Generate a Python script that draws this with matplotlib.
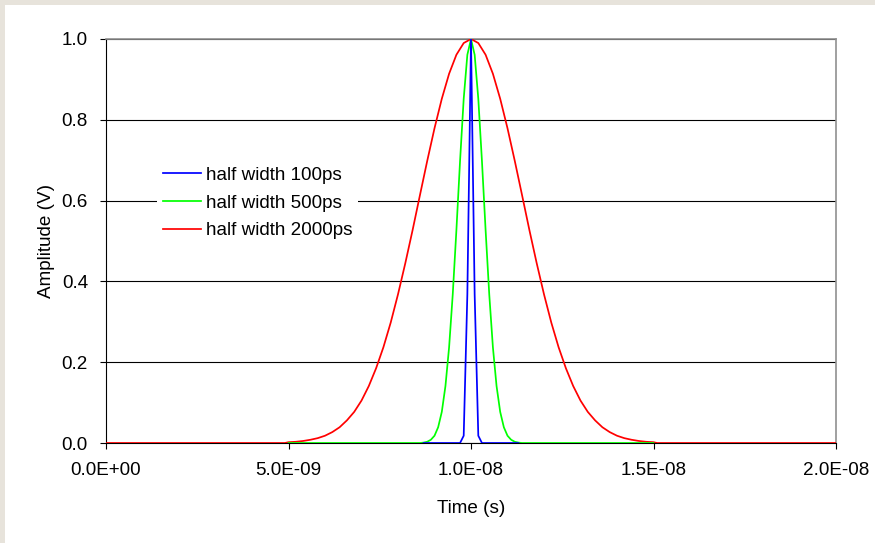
import matplotlib
matplotlib.use('Agg')
import matplotlib.pyplot as plt
from matplotlib.patches import Rectangle
from matplotlib.ticker import FuncFormatter, MultipleLocator
import numpy as np

plt.rcParams['font.family'] = ['Liberation Sans', 'DejaVu Sans']

# time axis in ns, amplitudes in V
red_t = [0.0, 4.9,
         5.0, 5.2, 5.4, 5.6, 5.8, 6.0, 6.2, 6.4, 6.6, 6.8, 7.0, 7.2, 7.4,
         7.6, 7.8, 8.0, 8.2, 8.4, 8.6, 8.8, 9.0, 9.2, 9.4, 9.6, 9.8, 10.0,
         10.2, 10.4, 10.6, 10.8, 11.0, 11.2, 11.4, 11.6, 11.8, 12.0, 12.2,
         12.4, 12.6, 12.8, 13.0, 13.2, 13.4, 13.6, 13.8, 14.0, 14.2, 14.4,
         14.6, 14.8, 15.0,
         15.1, 20.0]
red_v = [0.0, 0.0,
         0.002, 0.003, 0.005, 0.008, 0.012, 0.018, 0.027, 0.039, 0.056,
         0.077, 0.105, 0.141, 0.185, 0.237, 0.298, 0.368, 0.445, 0.527,
         0.613, 0.698, 0.779, 0.852, 0.914, 0.961, 0.990, 1.000,
         0.990, 0.961, 0.914, 0.852, 0.779, 0.698, 0.613, 0.527, 0.445,
         0.368, 0.298, 0.237, 0.185, 0.141, 0.105, 0.077, 0.056, 0.039,
         0.027, 0.018, 0.012, 0.008, 0.005, 0.003, 0.002,
         0.0, 0.0]

green_t = [5.0,
           8.6, 8.7, 8.8, 8.9, 9.0, 9.1, 9.2, 9.3, 9.4, 9.5, 9.6, 9.7, 9.8,
           9.9, 10.0, 10.1, 10.2, 10.3, 10.4, 10.5, 10.6, 10.7, 10.8, 10.9,
           11.0, 11.1, 11.2, 11.3, 11.4,
           15.0]
green_v = [0.0,
           0.0, 0.001, 0.003, 0.008, 0.018, 0.039, 0.077, 0.141, 0.237,
           0.368, 0.527, 0.698, 0.852, 0.961, 1.000, 0.961, 0.852, 0.698,
           0.527, 0.368, 0.237, 0.141, 0.077, 0.039, 0.018, 0.008, 0.003,
           0.001, 0.0,
           0.0]

blue_t = [8.7, 9.7, 9.8, 9.9, 10.0, 10.1, 10.2, 10.3, 11.3]
blue_v = [0.0, 0.0, 0.018, 0.368, 1.000, 0.368, 0.018, 0.0, 0.0]

labels = ['half width 100ps', 'half width 500ps', 'half width 2000ps']
colors = ['#0000FF', '#00FF00', '#FF0000']
fs = 13.6

fig = plt.figure(figsize=(8.75, 5.43), dpi=100, facecolor='#E7E3DB')
fig.patches.append(Rectangle((5 / 875, 0), 1, 538 / 543, transform=fig.transFigure,
                             facecolor='white', edgecolor='none', zorder=-1))

ax = fig.add_axes([106 / 875, 100 / 543, 730 / 875, 404 / 543])
ax.set_facecolor('white')

l_red, = ax.plot(np.array(red_t) * 1e-9, red_v, color=colors[2], lw=1.25, zorder=3)
l_green, = ax.plot(np.array(green_t) * 1e-9, green_v, color=colors[1], lw=1.25, zorder=4)
l_blue, = ax.plot(np.array(blue_t) * 1e-9, blue_v, color=colors[0], lw=1.25, zorder=5)

ax.set_xlim(0, 2e-8)
ax.set_ylim(0, 1.0)
ax.xaxis.set_major_locator(MultipleLocator(5e-9))
ax.yaxis.set_major_locator(MultipleLocator(0.2))
ax.xaxis.set_major_formatter(FuncFormatter(lambda v, p: f'{v:.1E}'))
ax.yaxis.set_major_formatter(FuncFormatter(lambda v, p: f'{v:.1f}'))

ax.grid(axis='y', color='black', lw=0.8)
ax.set_axisbelow(True)
for side in ['left', 'bottom']:
    ax.spines[side].set_color('black')
    ax.spines[side].set_linewidth(0.8)
for side in ['top', 'right']:
    ax.spines[side].set_color('#909090')
    ax.spines[side].set_linewidth(1.2)

ax.tick_params(axis='both', direction='out', length=4.5, width=0.8,
               labelsize=fs, colors='black')
ax.tick_params(axis='y', pad=8.5)
ax.tick_params(axis='x', pad=9)

ax.set_xlabel('Time (s)', fontsize=fs, labelpad=15)
ax.set_ylabel('Amplitude (V)', fontsize=fs, labelpad=5)

leg = ax.legend([l_blue, l_green, l_red], labels, loc='upper left',
                bbox_to_anchor=(157 / 875, 1 - 161 / 543), bbox_transform=fig.transFigure,
                fontsize=fs, frameon=True, fancybox=False, framealpha=1,
                borderaxespad=0, borderpad=0.3, handlelength=2.05,
                handletextpad=0.25, labelspacing=0.55)
leg.get_frame().set_edgecolor('none')
leg.get_frame().set_facecolor('white')
leg.set_zorder(6)

fig.savefig('out.png', dpi=100, facecolor=fig.get_facecolor())
